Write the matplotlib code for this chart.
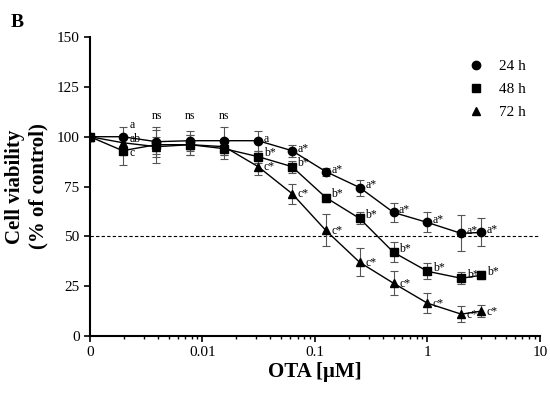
import matplotlib.pyplot as plt
from matplotlib.lines import Line2D
from matplotlib.ticker import FixedLocator, LogLocator, NullFormatter

plt.rcParams['font.family'] = ['Liberation Serif', 'DejaVu Serif']

# concentrations (uM); control "0" is drawn at the left edge (0.001)
conc = [0.001, 0.00195, 0.0039, 0.0078, 0.0156, 0.03125, 0.0625,
        0.125, 0.25, 0.5, 1, 2, 3]

v24 = [100, 100, 97.5, 98, 98, 98, 93, 82.5, 74.5, 62, 57, 51.5, 52]
e24 = [0, 5, 6, 5, 7, 5, 3, 2, 4, 5, 5, 9, 7]
v48 = [100, 93, 96, 96, 94, 90, 85, 69.5, 59, 42, 32.5, 29, 30.5]
e48 = [0, 7, 9, 5, 5, 3, 3, 2, 3, 5, 4, 3, 2]
v72 = [100, 97, 95, 96, 95, 85, 71.5, 53, 37, 26.5, 16.5, 11, 12.5]
e72 = [0, 3, 5, 5, 4, 4, 5, 8, 7, 6, 5, 4, 3]

lab24 = ['', '', '', '', '', 'a', 'a*', 'a*', 'a*', 'a*', 'a*', 'a*', 'a*']
lab48 = ['', '', '', '', '', 'b*', 'b*', 'b*', 'b*', 'b*', 'b*', 'b*', 'b*']
lab72 = ['', '', '', '', '', 'c*', 'c*', 'c*', 'c*', 'c*', 'c*', 'c*', 'c*']
# letters at the lowest dose, stacked to the right of the points
low_labels = ['a', 'ab', 'c']
low_y = [106, 99, 92]
ns_x = [0.0039, 0.0078, 0.0156]

xticks = [0.001, 0.01, 0.1, 1, 10]
xticklabels = ['0', '0.01', '0.1', '1', '10']

fig = plt.figure(figsize=(5.5, 3.94), dpi=100)
ax = fig.add_axes([0.1636, 0.147, 0.818, 0.759])

series = [(v24, e24, 'o', '24 h', lab24, 1.5),
          (v48, e48, 's', '48 h', lab48, 2.5),
          (v72, e72, '^', '72 h', lab72, -0.5)]
handles = []
for v, e, m, name, labs, dy in series:
    ax.errorbar(conc, v, yerr=e, color='black', ecolor='#555555',
                elinewidth=0.8, capsize=3, capthick=0.8, lw=1,
                marker=m, ms=6, zorder=3)
    handles.append(Line2D([], [], color='black', ls='none', marker=m,
                          ms=6, label=name))
    for x, y, t in zip(conc, v, labs):
        if t:
            ax.annotate(t, (x, y), xytext=(4, dy), textcoords='offset points',
                        fontsize=8.5, ha='left', va='center')

for t, y in zip(low_labels, low_y):
    ax.annotate(t, (conc[1], y), xytext=(5, 0), textcoords='offset points',
                fontsize=8.5, ha='left', va='center')

for x in ns_x:
    ax.text(x, 107.5, 'ns', fontsize=8.5, ha='center', va='bottom')

ax.axhline(50, color='black', lw=0.8, ls=(0, (3, 2)), zorder=1)

ax.set_xscale('log')
ax.set_xlim(0.001, 10)
ax.set_ylim(0, 150)
ax.xaxis.set_major_locator(FixedLocator(xticks))
ax.set_xticklabels(xticklabels)
ax.xaxis.set_minor_locator(LogLocator(base=10, subs=range(2, 10)))
ax.xaxis.set_minor_formatter(NullFormatter())
ax.set_yticks(range(0, 151, 25))

for s in ['top', 'right']:
    ax.spines[s].set_visible(False)
for s in ['left', 'bottom']:
    ax.spines[s].set_linewidth(1.5)
ax.tick_params(axis='both', which='major', labelsize=11, width=1.2,
               length=4, direction='out')
ax.tick_params(axis='x', which='minor', width=1, length=2.5)

ax.set_xlabel('OTA [μM]', fontsize=15, fontweight='bold', labelpad=2)
ax.set_ylabel('Cell viability\n(% of control)', fontsize=15,
              fontweight='bold', labelpad=6)

ax.legend(handles=handles, loc='upper right', bbox_to_anchor=(1.0, 0.97),
          frameon=False, fontsize=11, handlelength=1.5, handletextpad=0.8,
          labelspacing=0.6)

fig.text(0.02, 0.965, 'B', fontsize=14, fontweight='bold', va='top')

fig.savefig('out.png', dpi=100)
